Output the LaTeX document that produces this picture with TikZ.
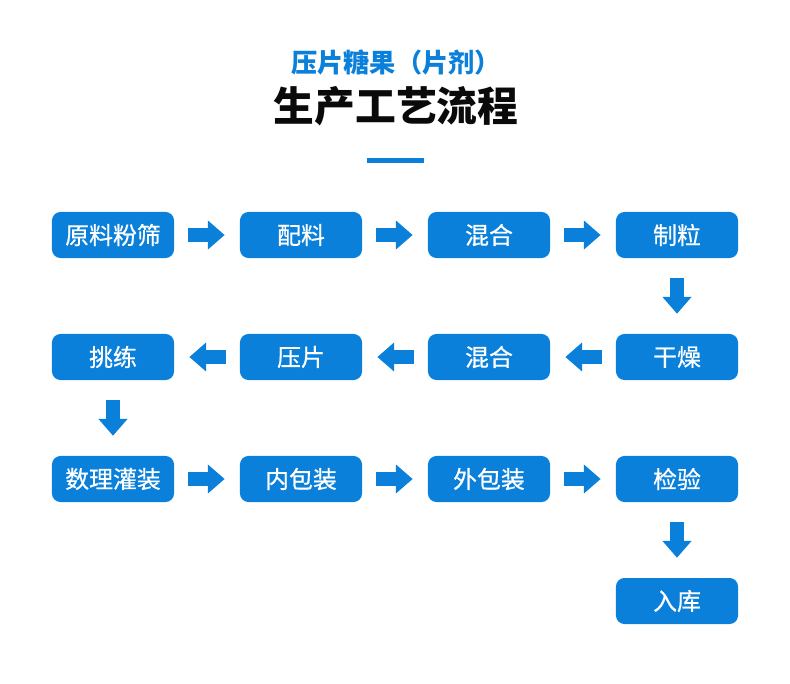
\documentclass[tikz,border=0pt]{standalone}
\usepackage{fontspec}
\usepackage{tikz}
\usetikzlibrary{arrows.meta}
\newfontfamily\cjk{Noto Sans CJK SC}
\newfontfamily\cjkmid{Noto Sans CJK SC}[FakeBold=0.6]
\definecolor{flow}{HTML}{0A80DB}
\definecolor{ink}{HTML}{0A0A0A}

\begin{document}
\begin{tikzpicture}[x=0.025cm,y=-0.025cm,font=\cjk,
  stepbox/.style={fill=flow,rounded corners=6pt,minimum width=122*0.7113pt,
    minimum height=46*0.7113pt,inner sep=0pt,text=white,font=\cjkmid\fontsize{17pt}{17pt}\selectfont},
  go/.style={draw=flow,line width=9.5pt,
    -{Triangle[width=20pt,length=12pt]}},
  goh/.style={go,shorten <=10pt,shorten >=10.7pt},
  gov/.style={go,shorten <=14.2pt,shorten >=14.2pt}]
  \useasboundingbox (0,0) rectangle (790,684);
  % heading
  \node[text=flow,font=\cjk\bfseries\fontsize{18.6pt}{18.6pt}\selectfont] (sub) at (396,63) {压片糖果（片剂）};
  \node[text=ink,font=\cjk\bfseries\fontsize{29pt}{29pt}\selectfont] (title) at (396,106) {生产工艺流程};
  \fill[flow] (367,158) rectangle (424,163);
  % row 1
  \node[stepbox] (sieve) at (113,235) {原料粉筛};
  \node[stepbox] (batch) at (301,235) {配料};
  \node[stepbox] (mixa) at (489,235) {混合};
  \node[stepbox] (gran) at (677,235) {制粒};
  % row 2
  \node[stepbox] (dry) at (677,357) {干燥};
  \node[stepbox] (mixb) at (489,357) {混合};
  \node[stepbox] (press) at (301,357) {压片};
  \node[stepbox] (pick) at (113,357) {挑练};
  % row 3
  \node[stepbox] (fill) at (113,479) {数理灌装};
  \node[stepbox] (inner) at (301,479) {内包装};
  \node[stepbox] (outer) at (489,479) {外包装};
  \node[stepbox] (check) at (677,479) {检验};
  % row 4
  \node[stepbox] (store) at (677,601) {入库};
  % arrows
  \draw[goh] (sieve) -- (batch);
  \draw[goh] (batch) -- (mixa);
  \draw[goh] (mixa) -- (gran);
  \draw[gov] (gran) -- (dry);
  \draw[goh] (dry) -- (mixb);
  \draw[goh] (mixb) -- (press);
  \draw[goh] (press) -- (pick);
  \draw[gov] (pick) -- (fill);
  \draw[goh] (fill) -- (inner);
  \draw[goh] (inner) -- (outer);
  \draw[goh] (outer) -- (check);
  \draw[gov] (check) -- (store);
\end{tikzpicture}
\end{document}
